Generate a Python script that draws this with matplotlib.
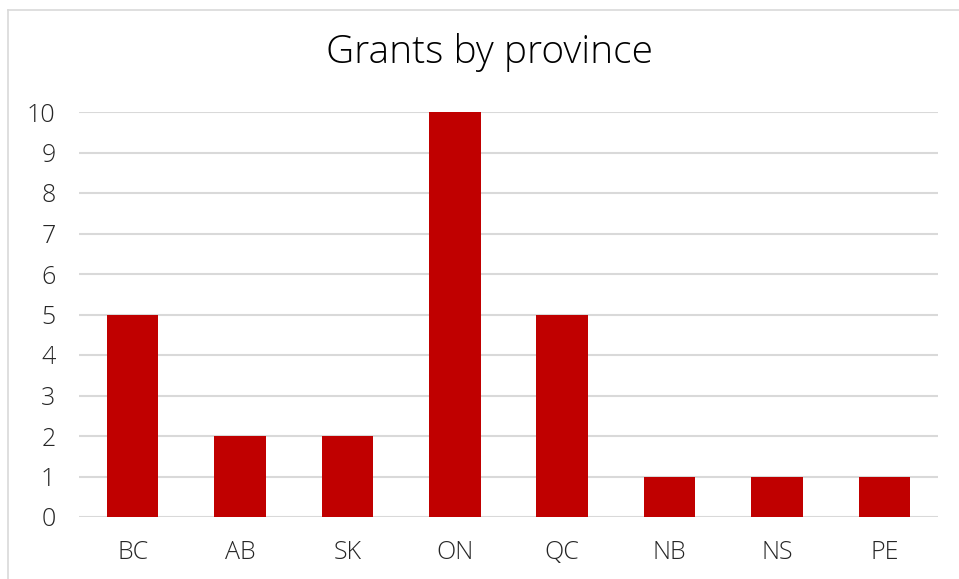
import matplotlib
matplotlib.use("Agg")
import matplotlib.pyplot as plt
from matplotlib.lines import Line2D

provinces = ["BC", "AB", "SK", "ON", "QC", "NB", "NS", "PE"]
grants = [5, 2, 2, 10, 5, 1, 1, 1]
yticks = list(range(0, 11))

W, H = 959, 579
fig = plt.figure(figsize=(W / 100, H / 100), dpi=100)
fam = ["Open Sans", "DejaVu Sans"]
weight = "light"

# axes: left 79, right 938, y0 at 517, y10 at 112
ax = fig.add_axes([79 / W, (H - 517) / H, (938 - 79) / W, (517 - 112) / H])
x = list(range(len(provinces)))
ax.bar(x, grants, width=0.48, color="#C00000", zorder=3)
ax.set_xlim(-0.5, len(provinces) - 0.5)
ax.set_ylim(0, 10)
ax.set_yticks(yticks)
ax.set_yticklabels([str(v) for v in yticks], fontsize=18, family=fam, weight=weight, color="#262626")
ax.set_xticks(x)
ax.set_xticklabels(provinces, fontsize=18, family=fam, weight=weight, color="#262626")
ax.tick_params(axis="both", length=0)
ax.tick_params(axis="y", pad=17)
ax.tick_params(axis="x", pad=16.5)
for s in ax.spines.values():
    s.set_visible(False)
ax.grid(axis="y", color="#D9D9D9", linewidth=1.5, zorder=0)
ax.set_axisbelow(True)

fig.text(489 / W, 1 - 53 / H, "Grants by province", ha="center", va="center",
         fontsize=28, family=fam, weight=weight, color="#000000")

# outer chart border (top and left only visible)
fig.add_artist(Line2D([8 / W, 1], [1 - 10 / H, 1 - 10 / H], transform=fig.transFigure,
                      color="#D9D9D9", linewidth=1.2))
fig.add_artist(Line2D([8 / W, 8 / W], [0, 1 - 10 / H], transform=fig.transFigure,
                      color="#D9D9D9", linewidth=1.2))

fig.savefig("out.png", dpi=100)
